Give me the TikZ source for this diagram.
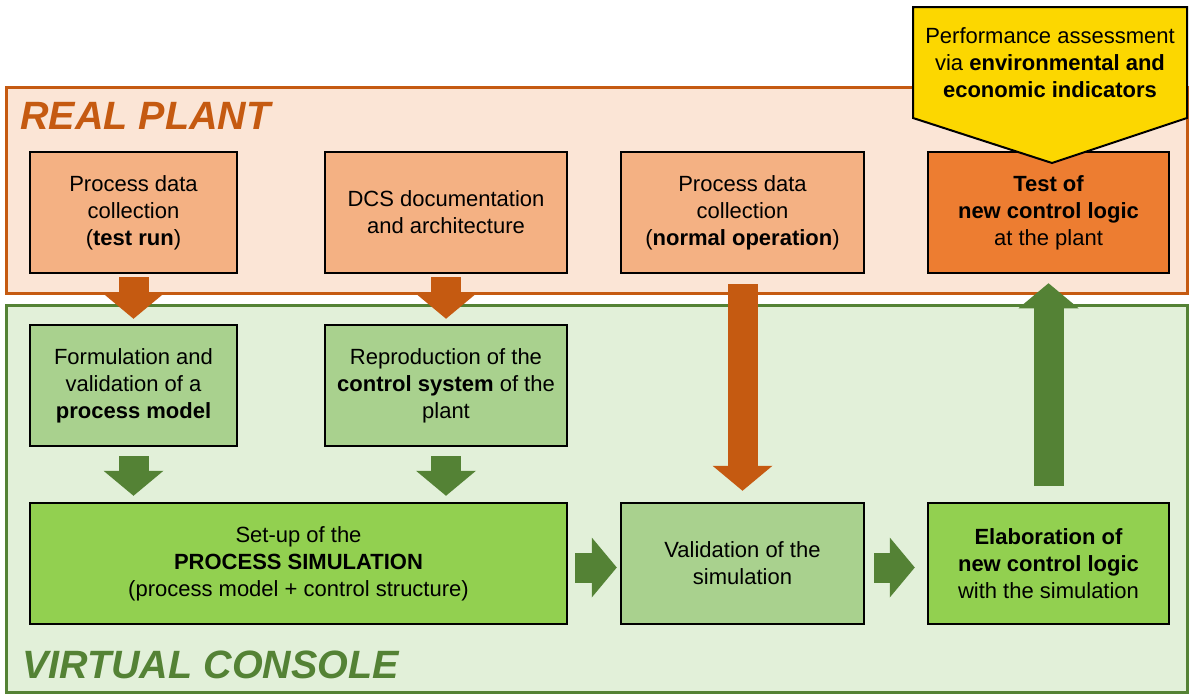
\documentclass[tikz,border=0pt]{standalone}
\usepackage{fontspec}
\setmainfont{Liberation Sans}
\usepackage{tikz}
\usetikzlibrary{arrows.meta}

\definecolor{plantline}{HTML}{C55A11}
\definecolor{plantfill}{HTML}{FBE5D6}
\definecolor{consoleline}{HTML}{548235}
\definecolor{consolefill}{HTML}{E2F0D9}
\definecolor{lightorange}{HTML}{F4B183}
\definecolor{darkorange}{HTML}{ED7D31}
\definecolor{lightgreen}{HTML}{A9D18E}
\definecolor{brightgreen}{HTML}{92D050}
\definecolor{calloutyellow}{HTML}{FCD700}

\tikzset{
  stagebox/.style={draw=black, line width=2.5pt, align=center, inner sep=2pt,
    font=\fontsize{22}{27}\selectfont},
  areatitle/.style={anchor=west, inner sep=0pt, font=\fontsize{39.5}{41}\selectfont\bfseries\itshape},
  blockarrow/.style={line width=30pt, -{Triangle[length=25pt,width=60pt,line width=0pt]}},
}

\begin{document}
\begin{tikzpicture}[x=1pt, y=-1pt]
            \useasboundingbox (0,0) rectangle (1190,696);

            \draw[draw=plantline, fill=plantfill, line width=3pt] (6,87) rectangle (1187,293);
            \node[areatitle, text=plantline] (plant) at (20,116) {REAL PLANT};

            \draw[draw=consoleline, fill=consolefill, line width=3pt] (6,305) rectangle (1187,692);
            \node[areatitle, text=consoleline] (console) at (22,665) {VIRTUAL CONSOLE};

            \node[stagebox, fill=lightorange, minimum width=207pt, minimum height=121pt] (p1) at (133.5,212.5)
                {Process data\\ collection\\ (\textbf{test run})};
            \node[stagebox, fill=lightorange, minimum width=242pt, minimum height=121pt] (p2) at (446,212.5)
                {DCS documentation\\ and architecture};
            \node[stagebox, fill=lightorange, minimum width=243pt, minimum height=121pt] (p3) at (742.5,212.5)
                {Process data\\ collection\\ (\textbf{normal operation})};
            \node[stagebox, fill=darkorange, minimum width=241pt, minimum height=121pt] (p4) at (1048.5,212.5)
                {\textbf{Test of}\\ \textbf{new control logic}\\ at the plant};

            \node[stagebox, fill=lightgreen, minimum width=207pt, minimum height=121pt] (f1) at (133.5,385.5)
                {Formulation and\\ validation of a\\ \textbf{process model}};
            \node[stagebox, fill=lightgreen, minimum width=242pt, minimum height=121pt] (r1) at (446,385.5)
                {Reproduction of the\\ \textbf{control system} of the\\ plant};

            \node[stagebox, fill=brightgreen, minimum width=537pt, minimum height=121pt] (s1) at (298.5,563.5)
                {Set-up of the\\ \textbf{PROCESS SIMULATION}\\ (process model + control structure)};
            \node[stagebox, fill=lightgreen, minimum width=243pt, minimum height=121pt] (v1) at (742.5,563.5)
                {Validation of the\\ simulation};
            \node[stagebox, fill=brightgreen, minimum width=241pt, minimum height=121pt] (e1) at (1048.5,563.5)
                {\textbf{Elaboration of}\\ \textbf{new control logic}\\ with the simulation};

            \draw[fill=calloutyellow, line width=2pt] (913,7) -- (1187,7) -- (1187,118) -- (1052,163) -- (913,118) -- cycle;
            \node[align=center, font=\fontsize{22}{27}\selectfont] (perf) at (1050,63)
                {Performance assessment\\ via \textbf{environmental and}\\ \textbf{economic indicators}};

            \draw[blockarrow, draw=plantline, fill=plantline, shorten <=3pt, shorten >=5pt] (p1) -- (f1);
            \draw[blockarrow, draw=plantline, fill=plantline, shorten <=3pt, shorten >=5pt] (p2) -- (r1);
            \draw[blockarrow, draw=plantline, fill=plantline, shorten <=10pt, shorten >=11pt] (p3) -- (v1);

            \draw[blockarrow, draw=consoleline, fill=consoleline, shorten <=9pt, shorten >=6pt] (f1.south) -- (f1.south |- s1.north);
            \draw[blockarrow, draw=consoleline, fill=consoleline, shorten <=9pt, shorten >=6pt] (r1.south) -- (r1.south |- s1.north);
            \draw[blockarrow, draw=consoleline, fill=consoleline, shorten <=7pt, shorten >=3pt] ([yshift=-4pt]s1.east) -- ([yshift=-4pt]v1.west);
            \draw[blockarrow, draw=consoleline, fill=consoleline, shorten <=9pt, shorten >=12pt] ([yshift=-4pt]v1.east) -- ([yshift=-4pt]e1.west);
            \draw[blockarrow, draw=consoleline, fill=consoleline, shorten <=16pt, shorten >=9pt] (e1) -- (p4);
        \end{tikzpicture}
\end{document}
